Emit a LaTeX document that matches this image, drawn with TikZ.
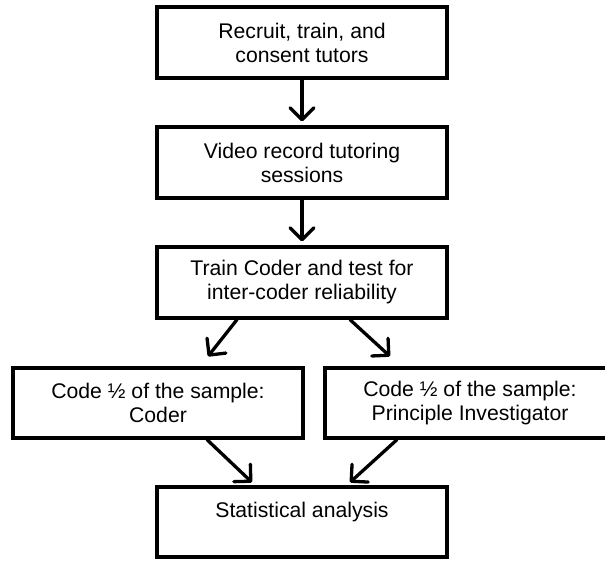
\documentclass[tikz,border=0pt]{standalone}
\usepackage{fontspec}
\setmainfont{Liberation Sans}
\usetikzlibrary{arrows.meta}
\begin{document}
\begin{tikzpicture}[
                x=1pt, y=-1pt,
                stepbox/.style={draw, line width=3.3pt, minimum width=290pt, minimum height=71pt,
                    inner sep=0pt, align=center, font=\fontsize{21.2}{24}\selectfont},
                flow/.style={line width=3.3pt, line cap=round,
                    -{Straight Barb[length=12pt,width=24pt,line cap=round,line join=round]}}
            ]
                \useasboundingbox (0,0) rectangle (605,561);

                \node[stepbox] (rec) at (302,42.5) {Recruit, train, and\\consent tutors};
                \node[stepbox] (video) at (302,162.5) {Video record tutoring\\sessions};
                \node[stepbox] (train) at (302,282.5) {Train Coder and test for\\inter-coder reliability};
                \node[stepbox, minimum height=70pt] (coder) at (158,403) {Code ½ of the sample:\\Coder};
                \node[stepbox, minimum height=70pt] (pi) at (470,403) {Code ½ of the sample:\\Principle Investigator};
                \node[stepbox, minimum height=70pt] (stats) at (302,522) {Statistical analysis\\\mbox{}};

                \draw[flow] (rec) -- ([yshift=4pt]video.north);
                \draw[flow] (video) -- ([yshift=4pt]train.north);
                \draw[flow] ([xshift=-65pt]train.south) -- ([xshift=50pt,yshift=10pt]coder.north);
                \draw[flow] ([xshift=48pt]train.south) -- ([xshift=-80pt,yshift=10pt]pi.north);
                \draw[flow] ([xshift=49pt]coder.south) -- ([xshift=-50pt,yshift=3pt]stats.north);
                \draw[flow] ([xshift=-73pt]pi.south) -- ([xshift=48pt,yshift=3pt]stats.north);
            \end{tikzpicture}
\end{document}
